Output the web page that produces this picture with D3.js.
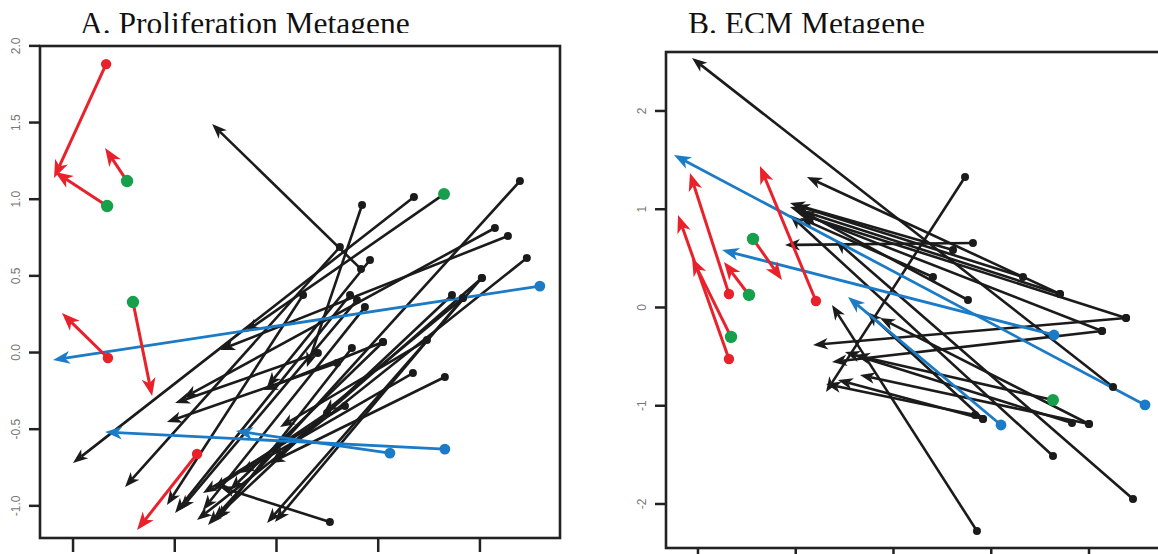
<!DOCTYPE html>
<html>
<head>
<meta charset="utf-8">
<script src="https://cdn.jsdelivr.net/npm/d3@7"></script>
<style>
  body { margin: 0; background: #fff; }
  svg { display: block; }
</style>
</head>
<body>
<svg id="chart" width="1158" height="554"></svg>
<script>
// each arrow: [x start, y start, x end, y end]  (dot at start, head at end)

// A. Proliferation Metagene
const profRed = [
  [-0.835, 1.878, -1.091, 1.135],
  [-0.826, -0.039, -1.052, 0.254],
  [-0.388, -0.665, -0.683, -1.161]
];
const profGreenRed = [
  [-0.830, 0.952, -1.086, 1.174],
  [-0.732, 1.115, -0.840, 1.330],
  [-0.703, 0.326, -0.609, -0.287]
];
const profGreenBlack = [
  [0.826, 1.030, -0.152, 0.130]
];
const profBlue = [
  [1.297, 0.430, -1.096, -0.052],
  [0.830, -0.633, -0.840, -0.522],
  [0.560, -0.659, -0.197, -0.515]
];
const profBlack = [
  [0.418, 0.541, -0.314, 1.487],
  [0.423, 0.959, 0.152, -0.098],
  [0.678, 1.011, -0.998, -0.724],
  [0.314, 0.685, -0.742, -0.880],
  [0.462, 0.600, -0.044, -0.228],
  [1.199, 1.115, -0.334, -1.128],
  [1.076, 0.809, -0.457, -0.300],
  [1.140, 0.757, -0.275, 0.013],
  [1.233, 0.613, -0.388, -1.096],
  [1.012, 0.483, -0.044, -1.115],
  [0.133, 0.372, -0.536, -0.998],
  [0.364, 0.372, -0.496, -1.050],
  [0.398, 0.339, -0.472, -1.030],
  [0.437, 0.293, -0.359, -1.030],
  [0.865, 0.372, -0.310, -1.096],
  [0.919, 0.352, -0.005, -1.109],
  [0.373, 0.026, -0.290, -1.096],
  [0.526, 0.065, -0.226, -0.900],
  [0.300, -0.072, -0.536, -0.457],
  [0.206, -0.007, -0.496, -0.333],
  [0.673, -0.137, -0.177, -0.789],
  [0.830, -0.163, -0.029, -0.724],
  [0.339, -0.352, -0.359, -0.920],
  [0.251, -0.398, -0.310, -0.900],
  [0.265, -1.109, -0.275, -0.880],
  [0.742, 0.078, 0.020, -0.489],
  [0.526, 0.065, -0.064, -0.248],
  [0.919, 0.352, 0.232, -0.398],
  [1.012, 0.483, -0.015, -0.704]
];
const profXTicks = [-1.0, -0.5, 0.0, 0.5, 1.0];
const profYTicks = [-1.0, -0.5, 0.0, 0.5, 1.0, 1.5, 2.0];

// B. ECM Metagene
const ecmRed = [
  [-1.678, 0.132, -2.077, 1.364],
  [-1.678, -0.529, -2.199, 0.936],
  [-0.788, 0.061, -1.361, 1.435]
];
const ecmGreenRed = [
  [-1.657, -0.305, -2.056, 0.499],
  [-1.473, 0.122, -1.729, 0.458],
  [-1.432, 0.692, -1.136, 0.275]
];
const ecmGreenBlack = [
  [1.637, -0.947, -0.389, -0.489]
];
const ecmBlue = [
  [2.578, -0.997, -2.240, 1.547],
  [1.647, -0.285, -1.749, 0.580],
  [1.105, -1.201, -0.460, 0.102]
];
const ecmBlack = [
  [2.251, -0.814, -2.056, 2.534],
  [1.708, 0.132, -0.880, 1.323],
  [0.737, 1.323, -0.685, -0.865],
  [0.859, -2.280, -0.624, 0.020],
  [0.818, 0.651, -1.105, 0.631],
  [2.384, -0.112, -0.818, -0.387],
  [2.138, -0.244, -0.624, -0.560],
  [0.921, -1.140, -0.563, -0.743],
  [0.839, -1.099, -0.685, -0.784],
  [1.831, -1.181, -0.491, -0.458],
  [2.005, -1.191, -0.338, -0.692],
  [1.637, -1.517, -1.054, 0.936],
  [2.455, -1.954, -0.593, 0.682],
  [1.330, 0.305, -1.003, 1.038],
  [0.767, 0.071, -0.951, 0.987],
  [0.614, 0.580, -1.054, 1.059],
  [0.409, 0.305, -0.951, 0.906],
  [2.138, -0.244, -0.982, 0.967],
  [1.708, 0.132, -1.054, 1.018],
  [2.384, -0.112, -0.930, 0.940],
  [0.921, -1.140, -0.266, -0.051],
  [2.005, -1.191, -0.133, -0.112]
];
const ecmXTicks = [-2, -1, 0, 1, 2];
const ecmYTicks = [-2, -1, 0, 1, 2];

const colors = {
  black: '#1b1b1b',
  red: '#e8212b',
  green: '#16a04b',
  blue: '#1b7bc6'
};

const svg = d3.select('#chart');

svg.append('defs').append('clipPath').attr('id', 'titleClip')
  .append('rect').attr('x', 0).attr('y', 0).attr('width', 1158).attr('height', 33);

function headPath(x0, y0, x1, y1, len, wid) {
  const d = Math.hypot(x1 - x0, y1 - y0);
  const ux = (x1 - x0) / d, uy = (y1 - y0) / d;
  const bx = x1 - ux * len, by = y1 - uy * len;
  const mx = x1 - ux * len * 0.72, my = y1 - uy * len * 0.72;
  const nx = -uy * wid, ny = ux * wid;
  return `M${x1},${y1}L${bx + nx},${by + ny}L${mx},${my}L${bx - nx},${by - ny}Z`;
}

function drawPanel(o) {
  const x = d3.scaleLinear().domain(o.xDomain).range([o.left, o.right]);
  const y = d3.scaleLinear().domain(o.yDomain).range([o.bottom, o.top]);
  const g = svg.append('g');

  // title (bottom clipped like the original scan)
  g.append('text')
    .attr('x', o.titleX).attr('y', 34)
    .attr('clip-path', 'url(#titleClip)')
    .style('font-family', '"Liberation Serif", "Times New Roman", serif')
    .style('font-size', '31.5px')
    .style('fill', '#111')
    .text(o.title);

  // y axis
  const yAxis = g.append('g')
    .attr('transform', `translate(${o.left},0)`)
    .call(d3.axisLeft(y).tickValues(o.yTicks).tickSize(11).tickFormat(o.fmt));
  yAxis.select('.domain').remove();
  yAxis.selectAll('.tick line').attr('stroke', '#222').attr('stroke-width', 2.5);
  yAxis.selectAll('.tick text')
    .attr('x', 0).attr('dy', 0)
    .attr('transform', `translate(${o.labelX - o.left},0) rotate(-90)`)
    .attr('text-anchor', 'middle')
    .attr('dominant-baseline', 'central')
    .style('font-family', '"Liberation Sans", Arial, sans-serif')
    .style('font-size', '12px')
    .style('fill', '#777');

  // x axis (labels fall below the cropped picture)
  const xAxis = g.append('g')
    .attr('transform', `translate(0,${o.bottom})`)
    .call(d3.axisBottom(x).tickValues(o.xTicks).tickSize(14).tickFormat(''));
  xAxis.select('.domain').remove();
  xAxis.selectAll('.tick line').attr('stroke', '#222').attr('stroke-width', 2.5);

  // box
  g.append('rect')
    .attr('x', o.left).attr('y', o.top)
    .attr('width', o.right - o.left).attr('height', o.bottom - o.top)
    .attr('fill', 'none').attr('stroke', '#222').attr('stroke-width', 2.6);

  const groups = [
    { data: o.black, line: colors.black, dot: colors.black, r: 4, len: 15, wid: 5.8, w: 2.6 },
    { data: o.greenBlack, line: colors.black, dot: colors.green, r: 6, len: 15, wid: 5.8, w: 2.6 },
    { data: o.blue, line: colors.blue, dot: colors.blue, r: 5.4, len: 17, wid: 6.5, w: 2.8 },
    { data: o.red, line: colors.red, dot: colors.red, r: 5.2, len: 18, wid: 7, w: 3 },
    { data: o.greenRed, line: colors.red, dot: colors.green, r: 6.2, len: 18, wid: 7, w: 3 }
  ];

  groups.forEach(s => {
    const sg = g.append('g');
    s.data.forEach(d => {
      const x0 = x(d[0]), y0 = y(d[1]), x1 = x(d[2]), y1 = y(d[3]);
      const len = Math.hypot(x1 - x0, y1 - y0);
      const k = Math.max(0, (len - s.len * 0.72) / len);
      sg.append('line')
        .attr('x1', x0).attr('y1', y0)
        .attr('x2', x0 + (x1 - x0) * k).attr('y2', y0 + (y1 - y0) * k)
        .attr('stroke', s.line).attr('stroke-width', s.w);
      sg.append('path')
        .attr('d', headPath(x0, y0, x1, y1, s.len, s.wid))
        .attr('fill', s.line);
    });
  });

  groups.forEach(s => {
    g.append('g').selectAll('circle')
      .data(s.data).join('circle')
      .attr('cx', d => x(d[0])).attr('cy', d => y(d[1]))
      .attr('r', s.r).attr('fill', s.dot);
  });
}

drawPanel({
  title: 'A. Proliferation Metagene', titleX: 80,
  left: 40, right: 560, top: 46, bottom: 538, labelX: 16,
  xDomain: [-1.160, 1.396], yDomain: [-1.213, 1.996],
  xTicks: profXTicks, yTicks: profYTicks, fmt: d => d.toFixed(1),
  red: profRed, greenRed: profGreenRed, greenBlack: profGreenBlack,
  blue: profBlue, black: profBlack
});

drawPanel({
  title: 'B. ECM Metagene', titleX: 688,
  left: 666, right: 1163, top: 52, bottom: 548, labelX: 642,
  xDomain: [-2.322, 2.762], yDomain: [-2.453, 2.595],
  xTicks: ecmXTicks, yTicks: ecmYTicks, fmt: d => String(d),
  red: ecmRed, greenRed: ecmGreenRed, greenBlack: ecmGreenBlack,
  blue: ecmBlue, black: ecmBlack
});
</script>
</body>
</html>
